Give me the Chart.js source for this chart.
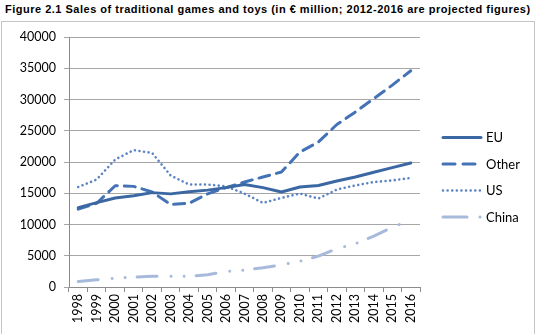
<!DOCTYPE html>
<html>
<head>
<meta charset="utf-8">
<script src="https://cdn.jsdelivr.net/npm/chart.js@4/dist/chart.umd.min.js"></script>
<style>
  html, body { margin: 0; padding: 0; background: #fff; }
  #wrap { position: relative; width: 535px; height: 334px; overflow: hidden; }
  #title {
    position: absolute; left: 5px; top: 3px;
    font: bold 11px "Liberation Sans", Arial, sans-serif; color: #000;
    letter-spacing: 0.5px; white-space: nowrap;
  }
  #frame {
    position: absolute; left: 1px; top: 21px; width: 532px; height: 320px;
    border: 1px solid #c4c4c4;
  }
  canvas { position: absolute; left: 0; top: 0; }
</style>
</head>
<body>
<div id="wrap">
  <div id="title">Figure 2.1 Sales of traditional games and toys (in € million; 2012-2016 are projected figures)</div>
  <div id="frame"></div>
  <canvas id="c" width="535" height="334"></canvas>
</div>
<script>
// Years on the category axis
const years = ['1998','1999','2000','2001','2002','2003','2004','2005','2006','2007',
               '2008','2009','2010','2011','2012','2013','2014','2015','2016'];

// Sales in € million per region
const euSales    = [12700, 13500, 14250, 14600, 15100, 14900, 15250, 15500, 15900, 16400,
                    15900, 15200, 16000, 16250, 16950, 17600, 18350, 19100, 19850];
const otherSales = [12450, 13400, 16200, 16100, 15200, 13200, 13400, 14900, 15900, 16800,
                    17600, 18400, 21600, 23200, 26000, 28000, 30150, 32300, 34600];
const usSales    = [16000, 17200, 20400, 21900, 21450, 17850, 16400, 16400, 16100, 14950,
                    13450, 14250, 14950, 14150, 15600, 16250, 16800, 17050, 17450];
const chinaSales = [880, 1150, 1420, 1580, 1730, 1700, 1730, 1950, 2480, 2700,
                    3080, 3560, 4130, 4940, 6120, 6920, 8140, 9580, 10650];

// Value axis ticks
const yTicks = [0, 5000, 10000, 15000, 20000, 25000, 30000, 35000, 40000];

const FONT = 'Lato, "Open Sans", sans-serif';

const series = [
  { label: 'EU',    data: euSales,    borderColor: '#3b68a3', borderWidth: 3,   borderDash: [] },
  { label: 'Other', data: otherSales, borderColor: '#4472b6', borderWidth: 3,   borderDash: [11, 7] },
  { label: 'US',    data: usSales,    borderColor: '#5b83c4', borderWidth: 2.6, borderDash: [0.01, 4.6] },
  { label: 'China', data: chinaSales, borderColor: '#a7badc', borderWidth: 3,   borderDash: [20, 14, 0.01, 13, 0.01, 12] }
];

// Legend on the right, drawn with each dataset's own line style
const sideLegend = {
  id: 'sideLegend',
  afterDraw(chart) {
    const ctx = chart.ctx;
    const x0 = 443, x1 = 481, y0 = 137.5, step = 26.5;
    ctx.save();
    chart.data.datasets.forEach((ds, i) => {
      const y = y0 + i * step;
      ctx.beginPath();
      ctx.strokeStyle = ds.borderColor;
      ctx.lineWidth = ds.borderWidth;
      ctx.lineCap = ds.borderCapStyle || 'butt';
      ctx.setLineDash(ds.legendDash || ds.borderDash || []);
      ctx.moveTo(x0, y);
      ctx.lineTo(x1, y);
      ctx.stroke();
      ctx.setLineDash([]);
      ctx.fillStyle = '#000';
      ctx.font = '13px ' + FONT;
      ctx.textBaseline = 'middle';
      ctx.textAlign = 'left';
      ctx.fillText(ds.label, 486, y + 0.5);
    });
    ctx.restore();
  }
};

const datasets = series.map(s => ({
  label: s.label,
  data: s.data,
  borderColor: s.borderColor,
  backgroundColor: s.borderColor,
  borderWidth: s.borderWidth,
  borderDash: s.borderDash,
  borderCapStyle: 'round',
  borderJoinStyle: 'round',
  pointRadius: 0,
  pointHoverRadius: 0,
  tension: 0,
  fill: false
}));
datasets[1].legendDash = [12, 8];
datasets[2].legendDash = [0.01, 4.6];
datasets[3].legendDash = [24, 13, 0.01, 12];

new Chart(document.getElementById('c'), {
  type: 'line',
  data: { labels: years, datasets },
  options: {
    responsive: false,
    animation: false,
    devicePixelRatio: 1,
    layout: { padding: { left: 2, right: 115, top: 37, bottom: 0 } },
    plugins: {
      legend: { display: false },
      title: { display: false },
      tooltip: { enabled: false }
    },
    scales: {
      x: {
        type: 'category',
        offset: true,
        grid: { display: true, drawOnChartArea: false, offset: true, tickLength: 5, color: '#8c8c8c', lineWidth: 1 },
        border: { display: true, color: '#8c8c8c', width: 1 },
        ticks: {
          minRotation: 90, maxRotation: 90, autoSkip: false, padding: 2,
          color: '#000', font: { family: FONT, size: 12.5 }
        },
        afterFit(scale) { scale.height = 47; }
      },
      y: {
        min: 0, max: 40000,
        afterBuildTicks(scale) { scale.ticks = yTicks.map(v => ({ value: v })); },
        grid: { color: '#a6a6a6', lineWidth: 1, tickLength: 5 },
        border: { display: true, color: '#8c8c8c', width: 1 },
        ticks: {
          padding: 8, color: '#000', font: { family: FONT, size: 12.5 },
          callback: v => String(v)
        },
        afterFit(scale) { scale.width = 67; }
      }
    }
  },
  plugins: [sideLegend]
});
</script>
</body>
</html>
